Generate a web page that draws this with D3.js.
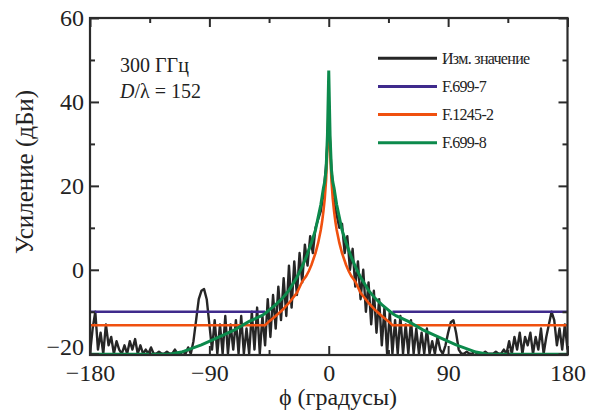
<!DOCTYPE html>
<html>
<head>
<meta charset="utf-8">
<script src="https://cdn.jsdelivr.net/npm/d3@7"></script>
<style>
  body { margin: 0; background: #fff; }
  svg { display: block; }
</style>
</head>
<body>
<svg id="canvas" width="589" height="416"></svg>
<script>
// measured pattern, 2 degree step from -180 to 180
let measStep = 2
let measGain = [
  -20, -14, -10, -19, -15, -20, -13, -18, -16, -20,
  -17, -19, -20, -18, -20, -17, -19, -16.5, -20, -18,
  -20, -19, -20, -18.5, -20, -20, -19.5, -20, -20, -19.5,
  -20, -20, -19, -20, -20, -19.5, -20, -18.5, -20, -17,
  -12, -7, -5, -4.6, -7, -13, -19, -12, -20, -13,
  -20, -11, -20, -13, -19, -12, -20, -11, -20, -14,
  -20, -10, -19, -9, -20, -11, -18, -7, -16, -6,
  -14, -4, -12, -2, -11, 1, -9, 2, -6, 4,
  -3, 6, 1, 8, 4, 10, 12, 14, 18, 25,
  36,
  24, 16, 13, 10, 11, 4, 8, 0, 5, -4,
  2, -7, 0, -10, -3, -13, -5, -15, -7, -18,
  -9, -20, -10, -20, -12, -20, -11, -20, -13, -20,
  -12, -20, -14, -20, -15, -20, -14, -20, -17, -20,
  -16, -19, -20, -18, -15, -12.5, -12, -15, -19, -20,
  -20, -19.5, -20, -20, -19.5, -20, -20, -20, -19.5, -20,
  -20, -20, -19.5, -20, -20, -19, -20, -17, -20, -16,
  -19, -15, -20, -16, -18, -15, -20, -16, -19, -14,
  -20, -16, -13, -10, -12, -18, -14, -19, -13, -19
]

// reference patterns (angle grid shared)
let modelPhi = [-180, -120, -111, -96, -80, -71, -60, -51, -48, -45, -40, -35, -30, -24, -20, -17, -15, -13, -10, -8, -6, -5, -4, -3, -2, -1, 0,
                1, 2, 3, 4, 5, 6, 8, 10, 13, 15, 17, 20, 24, 30, 35, 40, 45, 48, 51, 60, 71, 80, 96, 111, 120, 180]
let f6997 = [-10, -10, -10, -10, -10, -10, -10, -10, -10, null, null, null, null, null, null, null, null, null, null, null, null, null, null, null, null, null, null,
             null, null, null, null, null, null, null, null, null, null, null, null, null, null, null, null, null, -10, -10, -10, -10, -10, -10, -10, -10, -10]
let f12452 = [-13.2, -13.2, -13.2, -13.2, -13.2, -13.2, -13.2, -13.2, -13.2, -12.3, -11, -9.6, -7.9, -5.5, -2.8, -1.5, -0.3, 1.2, 4, 6.4, 9.5, 11.5, 14, 17, 21.5, 29, 40,
              29, 21.5, 17, 14, 11.5, 9.5, 6.4, 4, 1.2, -0.3, -1.5, -2.8, -5.5, -7.9, -9.6, -11, -12.3, -13.2, -13.2, -13.2, -13.2, -13.2, -13.2, -13.2, -13.2, -13.2]
let f6998 = [-20.1, -20.1, -19.6, -17.9, -15.6, -14.3, -12.3, -11, -10.4, -9.6, -8.3, -6.8, -4.9, -1.8, 0.8, 3, 4.8, 6.5, 9.5, 12.5, 15.5, 17.5, 19.5, 21, 24, 32, 47.5,
             32, 24, 21, 19.5, 17.5, 15.5, 12.5, 9.5, 6.5, 4.8, 3, 0.8, -1.8, -4.9, -6.8, -8.3, -9.6, -10.4, -11, -12.3, -14.3, -15.6, -17.9, -19.6, -20.1, -20.1]

let seriesNames = ['Изм. значение', 'F.699-7', 'F.1245-2', 'F.699-8']
let seriesColors = ['#262626', '#3f2a8c', '#f0500f', '#0c8a4c']

let xTicks = [-180, -90, 0, 90, 180]
let xMinor = [-135, -45, 45, 135]
let yTicks = [-20, 0, 20, 40, 60]
let yMinor = [-10, 10, 30, 50]

let serif = '"Liberation Serif", "DejaVu Serif", serif'
let canvas = d3.select('#canvas').style('font-family', serif)
let plotLeft = 90, plotRight = 567.5, plotTop = 18, plotBottom = 355

let x = d3.scaleLinear().domain([-180, 180]).range([plotLeft, plotRight])
let y = d3.scaleLinear().domain([-20.3, 60]).range([plotBottom, plotTop])

canvas.append('clipPath').attr('id', 'plotclip')
      .append('rect').attr('x', plotLeft).attr('y', plotTop - 2)
      .attr('width', plotRight - plotLeft).attr('height', plotBottom - plotTop + 2)

let plot = canvas.append('g').attr('clip-path', 'url(#plotclip)')

let measured = measGain.map((g, i) => [-180 + i * measStep, g])
let lineGen = d3.line().defined(d => d[1] !== null).x(d => x(d[0])).y(d => y(d[1]))

plot.append('path')
    .attr('d', lineGen(measured))
    .attr('fill', 'none').attr('stroke', seriesColors[0])
    .attr('stroke-width', 2.4).attr('stroke-linejoin', 'round')

let models = [f6997, f12452, f6998]
models.forEach((vals, k) => {
  plot.append('path')
      .attr('d', lineGen(modelPhi.map((p, i) => [p, vals[i]])))
      .attr('fill', 'none').attr('stroke', seriesColors[k + 1])
      .attr('stroke-width', k === 2 ? 3 : 2.6)
})

// axes
let axisColor = '#2b2b2b'
let styleAxis = (g) => {
  g.attr('font-family', serif)
  g.select('.domain').remove()
  g.selectAll('.tick line').attr('stroke', axisColor).attr('stroke-width', 2)
  g.selectAll('.tick text').attr('font-family', serif).style('font-size', '24px').attr('fill', '#222')
}
let fmt = d => d < 0 ? '\u2212' + Math.abs(d) : d

canvas.append('g').attr('transform', `translate(0,${plotBottom})`)
      .call(d3.axisBottom(x).tickValues(xTicks).tickSize(-9).tickPadding(9).tickFormat(fmt))
      .call(styleAxis)
canvas.append('g').attr('transform', `translate(0,${plotBottom})`)
      .call(d3.axisBottom(x).tickValues(xMinor).tickSize(-5).tickFormat(''))
      .call(styleAxis)
canvas.append('g').attr('transform', `translate(0,${plotTop})`)
      .call(d3.axisTop(x).tickValues(xTicks).tickSize(-9).tickFormat(''))
      .call(styleAxis)
canvas.append('g').attr('transform', `translate(0,${plotTop})`)
      .call(d3.axisTop(x).tickValues(xMinor).tickSize(-5).tickFormat(''))
      .call(styleAxis)

let yAxisG = canvas.append('g').attr('transform', `translate(${plotLeft},0)`)
      .call(d3.axisLeft(y).tickValues(yTicks).tickSize(-9).tickPadding(6).tickFormat(fmt))
      .call(styleAxis)
// lowest label sits a little higher, clear of the x labels
yAxisG.selectAll('.tick text').filter(d => d === -20).attr('y', -7)

canvas.append('g').attr('transform', `translate(${plotLeft},0)`)
      .call(d3.axisLeft(y).tickValues(yMinor).tickSize(-5).tickFormat(''))
      .call(styleAxis)
canvas.append('g').attr('transform', `translate(${plotRight},0)`)
      .call(d3.axisRight(y).tickValues(yTicks).tickSize(-9).tickFormat(''))
      .call(styleAxis)
canvas.append('g').attr('transform', `translate(${plotRight},0)`)
      .call(d3.axisRight(y).tickValues(yMinor).tickSize(-5).tickFormat(''))
      .call(styleAxis)

canvas.append('rect')
      .attr('x', plotLeft).attr('y', plotTop).attr('width', plotRight - plotLeft).attr('height', plotBottom - plotTop)
      .attr('fill', 'none').attr('stroke', axisColor).attr('stroke-width', 2.2)

// axis titles
canvas.append('text')
      .attr('transform', 'translate(33,172) rotate(-90)')
      .attr('text-anchor', 'middle').attr('font-family', serif).attr('fill', '#222').style('font-size', '25px')
      .text('Усиление (дБи)')
canvas.append('text')
      .attr('x', 338).attr('y', 405)
      .attr('text-anchor', 'middle').attr('font-family', serif).attr('fill', '#222').style('font-size', '24px')
      .text('ϕ (градусы)')

// annotation
canvas.append('text').attr('x', 120).attr('y', 72).attr('font-family', serif).attr('fill', '#222')
      .style('font-size', '20px').text('300 ГГц')
let ann = canvas.append('text').attr('x', 120).attr('y', 98).attr('font-family', serif).attr('fill', '#222')
      .style('font-size', '20px')
ann.append('tspan').style('font-style', 'italic').text('D')
ann.append('tspan').text('/λ = 152')

// legend
let legendY = [58.3, 86.6, 114.5, 142.7]
let legend = canvas.append('g')
seriesNames.forEach((name, i) => {
  legend.append('line')
        .attr('x1', 378).attr('x2', 437).attr('y1', legendY[i]).attr('y2', legendY[i])
        .attr('stroke', seriesColors[i]).attr('stroke-width', 3)
  legend.append('text')
        .attr('x', 442).attr('y', legendY[i] + 5.5)
        .attr('font-family', serif).attr('fill', '#222')
        .style('font-size', '16px').style('letter-spacing', '-0.7px')
        .text(name)
})
</script>
</body>
</html>
